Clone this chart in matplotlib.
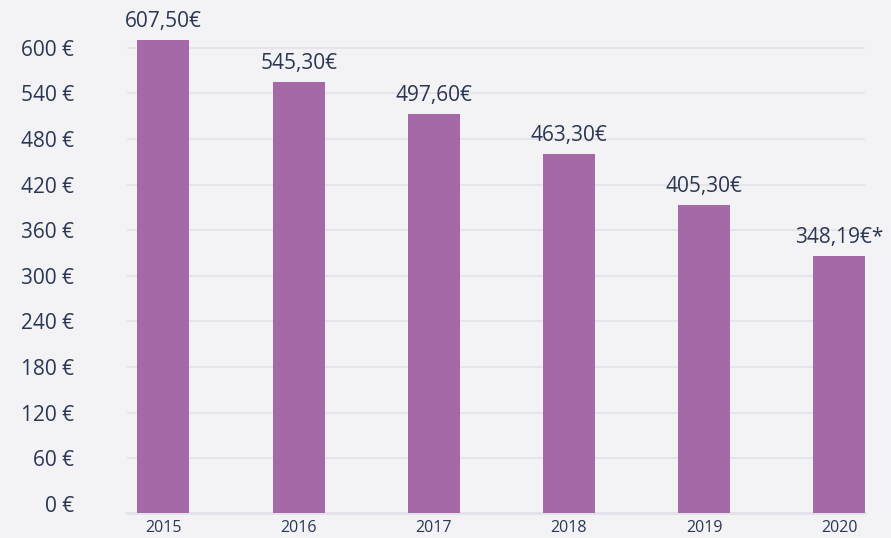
import numpy as np
import matplotlib.pyplot as plt

years = ['2015', '2016', '2017', '2018', '2019', '2020']
# bar heights as drawn in the picture (they don't quite match the labels)
heights = [610, 555, 513, 460, 393, 326]
labels = ['607,50€', '545,30€', '497,60€', '463,30€', '405,30€', '348,19€*']
yticks = np.arange(0, 601, 60)

bar_color = '#a569a8'
text_color = '#2b3652'
bg = '#f3f3f6'
grid_color = '#e2e2e8'

plt.rcParams['font.family'] = ['Open Sans', 'DejaVu Sans']

fig = plt.figure(figsize=(8.91, 5.38), dpi=100, facecolor=bg)
ax = fig.add_axes([0.1425, 0.0465, 0.8283, 0.9535], facecolor=bg)

y_floor = -12
x = np.arange(len(years))
ax.bar(x, np.array(heights) - y_floor, bottom=y_floor, width=0.385,
       color=bar_color, zorder=3)

for xi, h, lab in zip(x, heights, labels):
    ax.annotate(lab, (xi, h), xytext=(0, 6), textcoords='offset points',
                ha='center', va='bottom', fontsize=15, color=text_color)

ax.set_ylim(y_floor, 663)
ax.set_xlim(-0.27, 5.19)
ax.set_yticks(yticks)
ax.set_yticklabels([f'{v} €' for v in yticks])
ax.set_xticks(x)
ax.set_xticklabels(years)
ax.tick_params(axis='y', length=0, pad=38, labelsize=15, labelcolor=text_color)
ax.tick_params(axis='x', length=0, pad=5, labelsize=11.5, labelcolor=text_color)

ax.yaxis.grid(True, color=grid_color, linewidth=1.2, zorder=0)
ax.yaxis.get_gridlines()[0].set_visible(False)
for s in ['top', 'right', 'left']:
    ax.spines[s].set_visible(False)
ax.spines['bottom'].set_color(grid_color)
ax.spines['bottom'].set_linewidth(2)

fig.savefig('out.png', dpi=100, facecolor=bg)
